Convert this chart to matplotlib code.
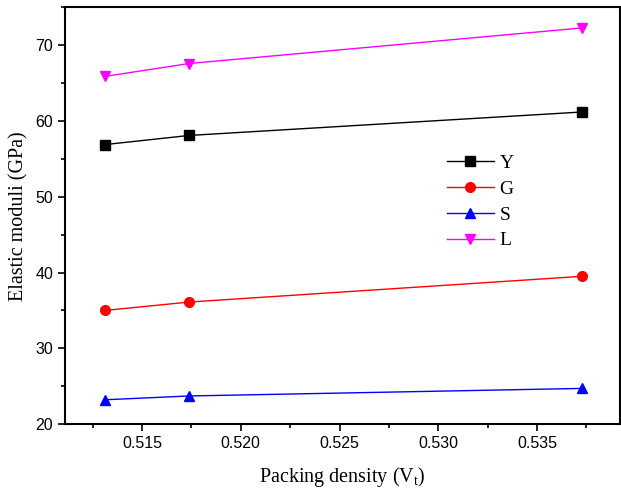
import matplotlib
matplotlib.use("Agg")
import matplotlib.pyplot as plt
from matplotlib.ticker import MultipleLocator

x = [0.51313, 0.51737, 0.53727]
Y = [56.9, 58.1, 61.2]
G = [35.0, 36.1, 39.5]
S = [23.2, 23.7, 24.7]
L = [65.9, 67.6, 72.3]
labels = ["Y", "G", "S", "L"]

fig = plt.figure(figsize=(6.21, 4.9), dpi=100)
ax = fig.add_axes([0.1047, 0.1347, 0.8937, 0.85])

styles = [("black", "s"), ("red", "o"), ("blue", "^"), ("magenta", "v")]
for vals, lab, (c, m) in zip([Y, G, S, L], labels, styles):
    ax.plot(x, vals, color=c, marker=m, markersize=7, linewidth=1, label=lab)

ax.set_xlim(0.5111, 0.5392)
ax.set_ylim(20, 75)
ax.xaxis.set_major_locator(MultipleLocator(0.005))
ax.xaxis.set_minor_locator(MultipleLocator(0.0025))
ax.yaxis.set_major_locator(MultipleLocator(10))
ax.yaxis.set_minor_locator(MultipleLocator(5))
ax.tick_params(which="major", direction="out", length=5, width=1.2, labelsize=11.5)
ax.tick_params(which="minor", direction="out", length=3, width=1.2)
for lab in ax.get_xticklabels() + ax.get_yticklabels():
    lab.set_fontfamily("Liberation Sans")
for sp in ax.spines.values():
    sp.set_linewidth(1.5)

ax.set_xlabel("Packing density (V$_\\mathregular{t}$)", fontfamily="Liberation Serif", fontsize=14.5, labelpad=10)
ax.set_ylabel("Elastic moduli (GPa)", fontfamily="Liberation Serif", fontsize=14.5, labelpad=5)

ax.legend(loc="upper left", bbox_to_anchor=(0.674, 0.666), frameon=False,
          prop={"family": "Liberation Serif", "size": 14}, handlelength=2.4,
          handletextpad=0.3, labelspacing=0.42, borderaxespad=0)

fig.savefig("out.png", dpi=100)
